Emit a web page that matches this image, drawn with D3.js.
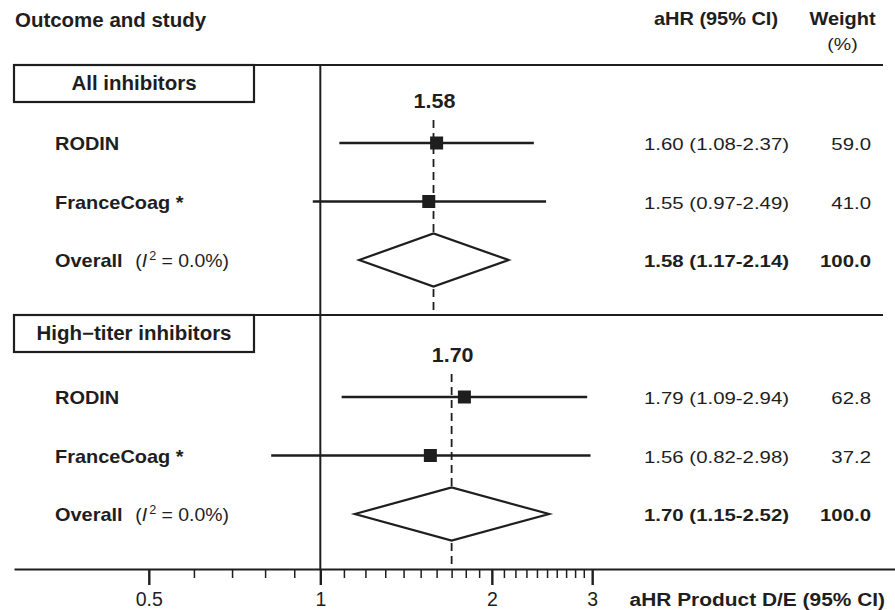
<!DOCTYPE html>
<html>
<head>
<meta charset="utf-8">
<script src="https://cdn.jsdelivr.net/npm/d3@7"></script>
<style>
  body { margin: 0; background: #fff; }
  text { font-family: "Liberation Sans", Arial, Helvetica, sans-serif; fill: #1e1e1e; }
</style>
</head>
<body>
<div id="chart"></div>
<script>

// Forest plot data
var groups = ["All inhibitors", "High\u2212titer inhibitors"];
var studies = ["RODIN", "FranceCoag *"];
var studyHR = [[1.60, 1.55], [1.79, 1.56]];
var studyLo = [[1.08, 0.97], [1.09, 0.82]];
var studyHi = [[2.37, 2.49], [2.94, 2.98]];
var studyWeight = [[59.0, 41.0], [62.8, 37.2]];
var overallHR = [1.58, 1.70];
var overallLo = [1.17, 1.15];
var overallHi = [2.14, 2.52];
var overallWeight = [100.0, 100.0];
var heterogeneity = [0.0, 0.0];
var tickMajor = [0.5, 1, 2, 3];
var tickMinor = [0.6, 0.7, 0.8, 0.9, 1.1, 1.2, 1.3, 1.4, 1.5, 1.6, 1.7, 1.8, 1.9,
                 2.1, 2.2, 2.3, 2.4, 2.5, 2.6, 2.7, 2.8, 2.9];

var width = 895, height = 610;
var ink = "#1e1e1e";

var svg = d3.select("#chart")
  .append("svg")
  .attr("width", width)
  .attr("height", height);

// Log scale for the hazard ratios
var x = d3.scaleLog()
  .domain([0.29, 10.2])
  .range([14, 895]);

var axisY = 569;
var sepY = [65, 315];
var rowY0 = [143, 397];
var rowStep = 58.5;

var f2 = d3.format(".2f");
var f1 = d3.format(".1f");

// Text helper, sx stretches the glyphs a bit horizontally
function addText(parent, tx, ty, str, size, weight, anchor, sx) {
  return parent.append("text")
    .attr("transform", "translate(" + tx + "," + ty + ") scale(" + (sx || 1) + ",1)")
    .attr("text-anchor", anchor || "start")
    .style("font-size", size + "px")
    .style("font-weight", weight || "normal")
    .text(str);
}

// Column headers
addText(svg, 15, 27, "Outcome and study", 19.5, "bold", "start", 1.05);
addText(svg, 716, 25, "aHR (95% CI)", 19, "bold", "middle", 1.05);
addText(svg, 842.5, 25, "Weight", 19, "bold", "middle", 1.05);
addText(svg, 842.5, 50, "(%)", 17, "normal", "middle", 1.15);

// Reference line at 1
svg.append("line")
  .attr("x1", x(1)).attr("x2", x(1))
  .attr("y1", sepY[0]).attr("y2", axisY)
  .attr("stroke", ink).attr("stroke-width", 2);

groups.forEach(function(name, g) {
  var g0 = rowY0[g];
  var yOverall = g0 + 2 * rowStep;

  // Group box and separator line
  svg.append("rect")
    .attr("x", 14).attr("y", sepY[g])
    .attr("width", 240).attr("height", 37)
    .attr("fill", "#fff")
    .attr("stroke", ink).attr("stroke-width", 2.2);

  svg.append("line")
    .attr("x1", 14).attr("x2", 883)
    .attr("y1", sepY[g]).attr("y2", sepY[g])
    .attr("stroke", ink).attr("stroke-width", 2.2);

  addText(svg, 134, sepY[g] + 25, name, 19.5, "bold", "middle", 1.05);

  // Dashed line at the pooled estimate
  svg.append("line")
    .attr("x1", x(overallHR[g])).attr("x2", x(overallHR[g]))
    .attr("y1", g0 - 23)
    .attr("y2", g === 0 ? sepY[1] : axisY)
    .attr("stroke", ink).attr("stroke-width", 1.8)
    .attr("stroke-dasharray", "8,5");

  addText(svg, x(overallHR[g]) + 1, g0 - 35, f2(overallHR[g]), 20.5, "bold", "middle", 1.05);

  // Each study: CI line, square, labels
  studies.forEach(function(study, i) {
    var y = g0 + i * rowStep;

    svg.append("line")
      .attr("x1", x(studyLo[g][i])).attr("x2", x(studyHi[g][i]))
      .attr("y1", y).attr("y2", y)
      .attr("stroke", ink).attr("stroke-width", 2.4);

    svg.append("rect")
      .attr("x", x(studyHR[g][i]) - 6.5).attr("y", y - 6.5)
      .attr("width", 13).attr("height", 13)
      .attr("fill", ink);

    addText(svg, 55, y + 7, study, 19, "bold", "start", 1.05);
    addText(svg, 644, y + 7,
      f2(studyHR[g][i]) + " (" + f2(studyLo[g][i]) + "-" + f2(studyHi[g][i]) + ")",
      17, "normal", "start", 1.2);
    addText(svg, 871, y + 7, f1(studyWeight[g][i]), 17, "normal", "end", 1.2);
  });

  // Pooled diamond
  var diamond = [
    [x(overallLo[g]), yOverall],
    [x(overallHR[g]), yOverall - 26.5],
    [x(overallHi[g]), yOverall],
    [x(overallHR[g]), yOverall + 26.5]
  ];
  svg.append("path")
    .attr("d", d3.line()(diamond) + "Z")
    .attr("fill", "#fff")
    .attr("stroke", ink).attr("stroke-width", 2.2)
    .attr("stroke-linejoin", "miter");

  // Overall label with I squared
  var lab = addText(svg, 55, yOverall + 7, "", 19, "bold", "start", 1.05);
  lab.append("tspan").text("Overall");
  lab.append("tspan").attr("dx", 12).style("font-weight", "normal").style("font-size", "18.5px").text("(");
  lab.append("tspan").style("font-weight", "normal").style("font-style", "italic").style("font-size", "18.5px").text("I");
  lab.append("tspan").attr("dx", 2).attr("dy", -7).style("font-weight", "normal").style("font-size", "12px").text("2");
  lab.append("tspan").attr("dy", 7).style("font-weight", "normal").style("font-size", "18.5px")
    .text(" = " + f1(heterogeneity[g]) + "%)");

  addText(svg, 644, yOverall + 7,
    f2(overallHR[g]) + " (" + f2(overallLo[g]) + "-" + f2(overallHi[g]) + ")",
    17, "bold", "start", 1.2);
  addText(svg, 871, yOverall + 7, f1(overallWeight[g]), 17, "bold", "end", 1.2);
});

// Minor ticks first, then major ticks with labels
svg.append("g")
  .attr("transform", "translate(0," + axisY + ")")
  .call(d3.axisBottom(x).tickValues(tickMinor).tickSize(9).tickSizeOuter(0).tickFormat(""))
  .call(function(a) {
    a.select(".domain").attr("stroke", ink).attr("stroke-width", 2.2);
    a.selectAll(".tick line").attr("stroke", ink).attr("stroke-width", 1.5);
  });

svg.append("g")
  .attr("transform", "translate(0," + axisY + ")")
  .call(d3.axisBottom(x).tickValues(tickMajor).tickSize(16).tickPadding(7).tickSizeOuter(0)
    .tickFormat(function(d) { return d; }))
  .call(function(a) {
    a.select(".domain").remove();
    a.selectAll(".tick line").attr("stroke", ink).attr("stroke-width", 2.4);
    a.selectAll(".tick text")
      .attr("fill", ink)
      .style("font-size", "19.5px")
      .style("font-family", "'Liberation Sans', Arial, sans-serif");
  });

addText(svg, 885, 606, "aHR Product D/E (95% CI)", 19, "bold", "end", 1.1);

</script>
</body>
</html>
